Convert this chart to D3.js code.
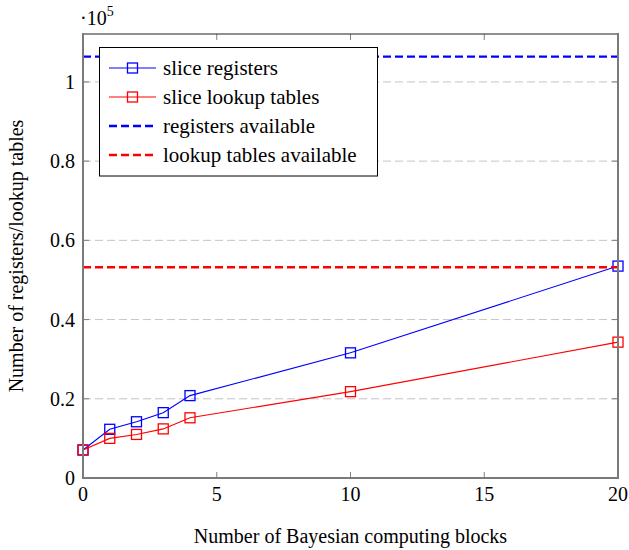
<!DOCTYPE html>
<meta charset="utf-8">
<style>
  body { margin: 0; background: white; }
</style>
<body></body>
<script src="https://cdn.jsdelivr.net/npm/d3@7"></script>
<script>
var blocks = [0, 1, 2, 3, 4, 10, 20];
var registers = [7070, 12300, 14200, 16500, 20800, 31600, 53500];
var lookupTables = [7070, 10000, 11000, 12400, 15200, 21800, 34300];
var registersAvailable = 106400;
var lookupAvailable = 53200;
var xTicks = [0, 5, 10, 15, 20];
var yTicks = [0, 20000, 40000, 60000, 80000, 100000];

var width = 629, height = 550;
var plotLeft = 83, plotRight = 618, plotTop = 34, plotBottom = 478;

var x = d3.scaleLinear().domain([0, 20]).range([plotLeft, plotRight]);
var y = d3.scaleLinear().domain([0, 112100]).range([plotBottom, plotTop]);

var svg = d3.select("body").append("svg")
    .attr("width", width)
    .attr("height", height)
    .attr("font-family", "'Liberation Serif', serif");

// grid
svg.append("g").selectAll("line")
    .data(yTicks.filter(d => d > 0))
  .enter().append("line")
    .attr("x1", plotLeft).attr("x2", plotRight)
    .attr("y1", d => y(d)).attr("y2", d => y(d))
    .style("stroke", "#c4c4c4")
    .style("stroke-dasharray", "8,4");

// ticks (inward, both sides)
var tickG = svg.append("g").style("stroke", "#808080").style("stroke-width", 1);
xTicks.slice(1, -1).forEach(function(t) {
  tickG.append("line").attr("x1", x(t)).attr("x2", x(t)).attr("y1", plotBottom).attr("y2", plotBottom - 6);
  tickG.append("line").attr("x1", x(t)).attr("x2", x(t)).attr("y1", plotTop).attr("y2", plotTop + 6);
});
yTicks.slice(1).forEach(function(t) {
  tickG.append("line").attr("x1", plotLeft).attr("x2", plotLeft + 6).attr("y1", y(t)).attr("y2", y(t));
  tickG.append("line").attr("x1", plotRight).attr("x2", plotRight - 6).attr("y1", y(t)).attr("y2", y(t));
});

var line = d3.line()
    .x(d => x(d[0]))
    .y(d => y(d[1]));

function drawSeries(values, color) {
  var pts = blocks.map((b, i) => [b, values[i]]);
  svg.append("path")
      .datum(pts)
      .attr("d", line)
      .style("fill", "none")
      .style("stroke", color)
      .style("stroke-width", 1.1);
  svg.append("g").selectAll("rect")
      .data(pts)
    .enter().append("rect")
      .attr("x", d => x(d[0]) - 5)
      .attr("y", d => y(d[1]) - 5)
      .attr("width", 10)
      .attr("height", 10)
      .style("fill", "none")
      .style("stroke", color)
      .style("stroke-width", 1.3);
}
drawSeries(registers, "blue");
drawSeries(lookupTables, "red");

// available lines
svg.append("line")
    .attr("x1", plotLeft).attr("x2", plotRight)
    .attr("y1", y(registersAvailable)).attr("y2", y(registersAvailable))
    .style("stroke", "blue").style("stroke-width", 2.4)
    .style("stroke-dasharray", "8,4");
svg.append("line")
    .attr("x1", plotLeft).attr("x2", plotRight)
    .attr("y1", y(lookupAvailable)).attr("y2", y(lookupAvailable))
    .style("stroke", "red").style("stroke-width", 2.4)
    .style("stroke-dasharray", "8,4");

// frame
svg.append("line").attr("x1", plotLeft).attr("x2", plotRight).attr("y1", plotTop).attr("y2", plotTop)
    .style("stroke", "#222").style("stroke-width", 1.2);
svg.append("g").selectAll("line")
    .data([[plotLeft, plotTop, plotLeft, plotBottom], [plotRight, plotTop, plotRight, plotBottom], [plotLeft, plotBottom, plotRight, plotBottom]])
  .enter().append("line")
    .attr("x1", d => d[0]).attr("y1", d => d[1])
    .attr("x2", d => d[2]).attr("y2", d => d[3])
    .style("stroke", "#7a7a7a").style("stroke-width", 2)
    .style("stroke-linecap", "square");

// tick labels
svg.append("g").selectAll("text")
    .data(xTicks)
  .enter().append("text")
    .attr("x", d => x(d))
    .attr("y", 501)
    .attr("text-anchor", "middle")
    .attr("font-size", 20)
    .text(d => d);
svg.append("g").selectAll("text")
    .data(yTicks)
  .enter().append("text")
    .attr("x", 75)
    .attr("y", d => y(d) + 7)
    .attr("text-anchor", "end")
    .attr("font-size", 20)
    .text(d => d === 0 ? "0" : d3.format(".1f")(d / 1e5).replace(/\.0$/, ""));

var exp = svg.append("text")
    .attr("x", 80)
    .attr("y", 25)
    .attr("font-size", 20);
exp.append("tspan").text("\u00b710");
exp.append("tspan").attr("dy", -9).attr("font-size", 14).text("5");

// axis labels
svg.append("text")
    .attr("x", (plotLeft + plotRight) / 2)
    .attr("y", 543)
    .attr("text-anchor", "middle")
    .attr("font-size", 20)
    .text("Number of Bayesian computing blocks");
svg.append("text")
    .attr("transform", "translate(23," + ((plotTop + plotBottom) / 2) + ") rotate(-90)")
    .attr("text-anchor", "middle")
    .attr("font-size", 20)
    .text("Number of registers/lookup tables");

// legend
var legendItems = [
  {label: "slice registers", color: "blue", dashed: false},
  {label: "slice lookup tables", color: "red", dashed: false},
  {label: "registers available", color: "blue", dashed: true},
  {label: "lookup tables available", color: "red", dashed: true}
];
var legend = svg.append("g");
legend.append("rect")
    .attr("x", 99.5).attr("y", 47.5)
    .attr("width", 278).attr("height", 128.5)
    .style("fill", "white")
    .style("stroke", "black")
    .style("stroke-width", 1);
var rows = legend.selectAll("g.row")
    .data(legendItems)
  .enter().append("g")
    .attr("class", "row")
    .attr("transform", (d, i) => "translate(0," + (68 + i * 29) + ")");
rows.append("line")
    .attr("x1", 109).attr("x2", 156)
    .style("stroke", d => d.color)
    .style("stroke-width", d => d.dashed ? 2.4 : 1.1)
    .style("stroke-dasharray", d => d.dashed ? "8,4" : null);
rows.filter(d => !d.dashed).append("rect")
    .attr("x", 127.5).attr("y", -5)
    .attr("width", 10).attr("height", 10)
    .style("fill", "none")
    .style("stroke", d => d.color)
    .style("stroke-width", 1.3);
rows.append("text")
    .attr("x", 163)
    .attr("y", 7)
    .attr("font-size", 21)
    .text(d => d.label);
</script>
